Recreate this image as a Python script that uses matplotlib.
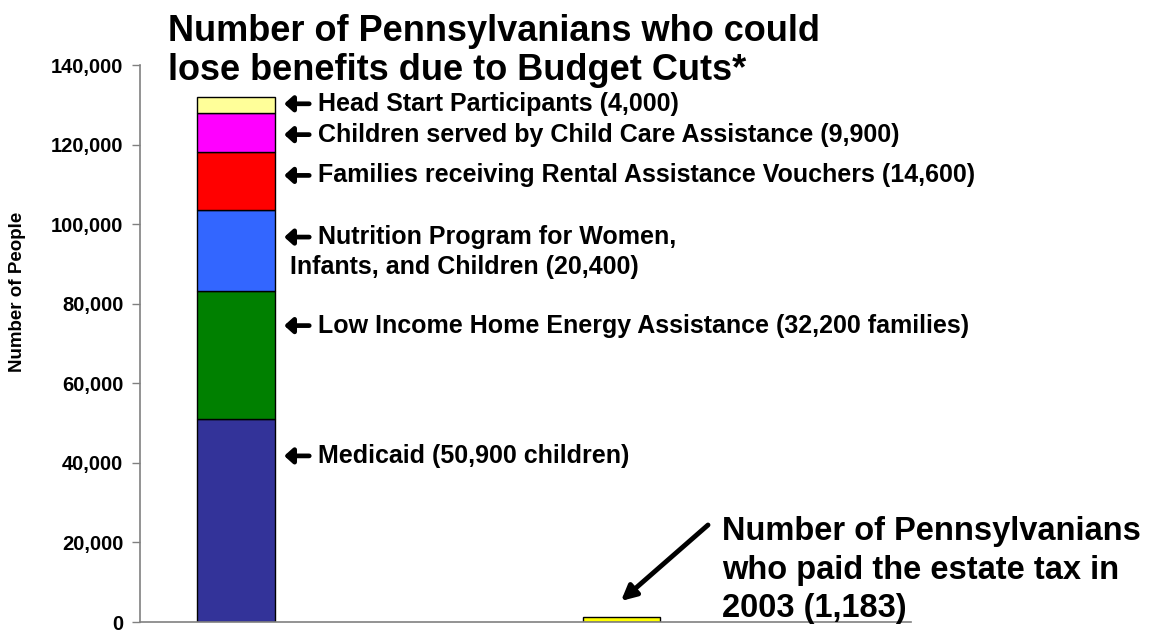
import numpy as np
import matplotlib

matplotlib.use("Agg")
import matplotlib.pyplot as plt
from matplotlib.ticker import FuncFormatter

plt.rcParams["font.family"] = ["Liberation Sans", "DejaVu Sans"]
plt.rcParams["font.weight"] = "bold"

# stacked bar: programs facing cuts (bottom to top)
PROGRAMS = [
    "Medicaid",
    "Low Income Home Energy Assistance",
    "Nutrition Program for Women, Infants, and Children",
    "Families receiving Rental Assistance Vouchers",
    "Children served by Child Care Assistance",
    "Head Start Participants",
]
PROGRAM_VALUES = [50900, 32200, 20400, 14600, 9900, 4000]
PROGRAM_COLORS = ["#333399", "#008000", "#3366FF", "#FF0000", "#FF00FF", "#FFFF99"]

ESTATE_TAX_PAYERS = 1183
ESTATE_COLOR = "#FFFF00"

Y_TICKS = [0, 20000, 40000, 60000, 80000, 100000, 120000, 140000]

# label lines beside the stacked bar: (text, y position, has arrow)
LABELS = [
    ("Head Start Participants (4,000)", 130250, True),
    ("Children served by Child Care Assistance (9,900)", 122500, True),
    ("Families receiving Rental Assistance Vouchers (14,600)", 112250, True),
    ("Nutrition Program for Women,", 96750, True),
    ("Infants, and Children (20,400)", 89250, False),
    ("Low Income Home Energy Assistance (32,200 families)", 74500, True),
    ("Medicaid (50,900 children)", 41750, True),
]

fig = plt.figure(figsize=(11.54, 6.33), dpi=100)
ax = fig.add_axes([140 / 1154, 11 / 633, 771 / 1154, 557 / 633])

bar_w = 0.2
bottoms = np.concatenate([[0], np.cumsum(PROGRAM_VALUES)[:-1]])
for val, bot, col in zip(PROGRAM_VALUES, bottoms, PROGRAM_COLORS):
    ax.bar(0, val, bottom=bot, width=bar_w, color=col, edgecolor="black", linewidth=1)
ax.bar(1, ESTATE_TAX_PAYERS, width=bar_w, color=ESTATE_COLOR, edgecolor="black", linewidth=1)

ax.set_xlim(-0.249, 1.751)
ax.set_ylim(0, 140000)
ax.set_yticks(Y_TICKS)
ax.yaxis.set_major_formatter(FuncFormatter(lambda v, p: f"{int(v):,}"))
ax.tick_params(axis="y", direction="out", length=6, width=1, color="#808080",
               pad=6, labelsize=14.5)
for t in ax.get_yticklabels():
    t.set_fontweight("bold")
ax.set_xticks([])
for s in ("top", "right"):
    ax.spines[s].set_visible(False)
for s in ("left", "bottom"):
    ax.spines[s].set_color("#808080")
    ax.spines[s].set_linewidth(1.2)

fig.text(18 / 1154, 1 - 292 / 633, "Number of People", rotation=90, ha="center",
         va="center", fontsize=13.5, fontweight="bold")

# side labels with thick arrows
for text, y, arrow in LABELS:
    if arrow:
        ax.annotate("", xy=(0.125, y), xytext=(0.19, y),
                    arrowprops=dict(arrowstyle="-|>,head_length=0.5,head_width=0.45",
                                    lw=3.4, color="black", shrinkA=0, shrinkB=0))
        ax.text(0.213, y, text, ha="left", va="center", fontsize=18, fontweight="bold")
    else:
        ax.text(0.141, y, text, ha="left", va="center", fontsize=18, fontweight="bold")

# title
fig.text(168 / 1154, 1 - 51 / 633, "Number of Pennsylvanians who could\nlose benefits due to Budget Cuts*",
         ha="left", va="center", fontsize=26, fontweight="bold", linespacing=1.12)

# estate tax annotation
fig.text(722 / 1154, 1 - 570 / 633,
         "Number of Pennsylvanians\nwho paid the estate tax in\n2003 (1,183)",
         ha="left", va="center", fontsize=23.5, fontweight="bold", linespacing=1.3)
ax.annotate("", xy=(621 / 1154, 1 - 601 / 633), xycoords="figure fraction",
            xytext=(708 / 1154, 1 - 525 / 633), textcoords="figure fraction",
            arrowprops=dict(arrowstyle="-|>,head_length=0.9,head_width=0.45",
                            lw=3.5, color="black", shrinkA=0, shrinkB=0))

fig.savefig("out.png", dpi=100)
